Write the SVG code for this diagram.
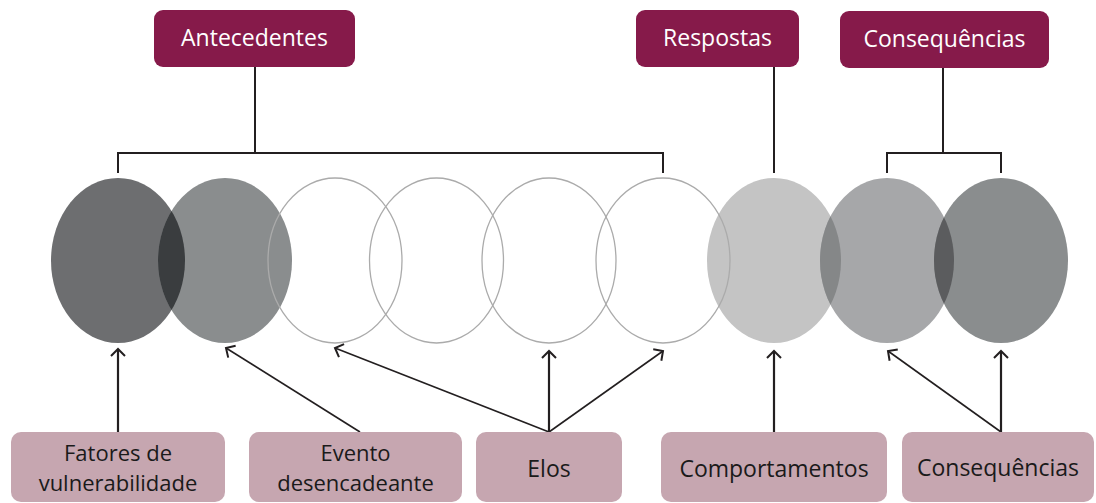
<svg xmlns="http://www.w3.org/2000/svg" width="1096" height="503" viewBox="0 0 1096 503">
<style>
.top{fill:#861a4a}
.bot{fill:#c6a6b0}
.tt{font-family:"Open Sans","Liberation Sans",sans-serif;font-size:23px;fill:#ffffff;text-anchor:middle}
.bt{font-family:"Open Sans","Liberation Sans",sans-serif;font-size:23px;fill:#1a1a1a;text-anchor:middle}
.bt2{font-family:"Open Sans","Liberation Sans",sans-serif;font-size:22px;fill:#1a1a1a;text-anchor:middle}
.ln{stroke:#231f20;stroke-width:2;fill:none}
.ar{stroke:#231f20;stroke-width:1.6;fill:none;marker-end:url(#head)}
.arv{stroke:#231f20;stroke-width:2.2;fill:none;marker-end:url(#head)}
.ol{fill:none;stroke:#ababab;stroke-width:1.3}
</style>
<defs>
<marker id="head" markerUnits="userSpaceOnUse" markerWidth="20" markerHeight="20" viewBox="-10 -10 20 20" refX="0" refY="0" orient="auto">
<path d="M-7,-7 L0,0 L-7,7" fill="none" stroke="#231f20" stroke-width="2"/>
</marker>
<clipPath id="c2"><ellipse cx="225" cy="260.5" rx="67" ry="82.5"/></clipPath>
<clipPath id="c8"><ellipse cx="887" cy="260.5" rx="67" ry="82.5"/></clipPath>
<clipPath id="c9"><ellipse cx="1001" cy="260.5" rx="67" ry="82.5"/></clipPath>
</defs>
<rect width="1096" height="503" fill="#ffffff"/>
<g id="ellipses">
<ellipse cx="118" cy="260.5" rx="67" ry="82.5" fill="#6d6e70"/>
<ellipse cx="225" cy="260.5" rx="67" ry="82.5" fill="#8a8d8e"/>
<ellipse cx="118" cy="260.5" rx="67" ry="82.5" fill="#3a3d3f" clip-path="url(#c2)"/>
<ellipse cx="774" cy="260.5" rx="67" ry="82.5" fill="#c4c4c4"/>
<ellipse cx="887" cy="260.5" rx="67" ry="82.5" fill="#a6a7a9"/>
<ellipse cx="1001" cy="260.5" rx="67" ry="82.5" fill="#8a8d8e"/>
<ellipse cx="774" cy="260.5" rx="67" ry="82.5" fill="#858788" clip-path="url(#c8)"/>
<ellipse cx="887" cy="260.5" rx="67" ry="82.5" fill="#5b5c5e" clip-path="url(#c9)"/>
<ellipse class="ol" cx="335" cy="260.5" rx="67" ry="82.5"/>
<ellipse class="ol" cx="436.5" cy="260.5" rx="67" ry="82.5"/>
<ellipse class="ol" cx="549" cy="260.5" rx="67" ry="82.5"/>
<ellipse class="ol" cx="663" cy="260.5" rx="67" ry="82.5"/>
</g>
<g id="connectors">
<path class="ln" d="M255,67 V153 M118,173 V153 H663 V173"/>
<path class="ln" d="M774,67 V173"/>
<path class="ln" d="M943,68 V153 M887,173 V153 H1001 V173"/>
<path class="arv" d="M118,432 L118,349"/>
<path class="ar" d="M360,432 L226,348"/>
<path class="ar" d="M549,432 L335,348"/>
<path class="arv" d="M549,432 L549,351"/>
<path class="ar" d="M549,432 L663,351"/>
<path class="arv" d="M774,432 L774,351"/>
<path class="ar" d="M1001,432 L888,351"/>
<path class="arv" d="M1001,432 L1001,351"/>
</g>
<g id="antecedentes">
<rect class="top" x="154" y="10" width="201" height="57" rx="9"/>
<text class="tt" x="254.5" y="46">Antecedentes</text>
</g>
<g id="respostas">
<rect class="top" x="636" y="10" width="163" height="57" rx="9"/>
<text class="tt" x="717.5" y="46">Respostas</text>
</g>
<g id="consequencias-top">
<rect class="top" x="840" y="11" width="209" height="57" rx="9"/>
<text class="tt" x="944.5" y="47">Consequências</text>
</g>
<g id="fatores">
<rect class="bot" x="11" y="432" width="214" height="70" rx="10"/>
<text class="bt2" x="118" y="461"><tspan x="118" y="461">Fatores de</tspan><tspan x="118" y="491">vulnerabilidade</tspan></text>
</g>
<g id="evento">
<rect class="bot" x="249" y="432" width="213" height="70" rx="10"/>
<text class="bt2" x="355.5" y="461"><tspan x="355.5" y="461">Evento</tspan><tspan x="355.5" y="491">desencadeante</tspan></text>
</g>
<g id="elos">
<rect class="bot" x="476" y="432" width="146" height="70" rx="10"/>
<text class="bt" x="549" y="477">Elos</text>
</g>
<g id="comportamentos">
<rect class="bot" x="661" y="432" width="226" height="70" rx="10"/>
<text class="bt" x="774" y="477">Comportamentos</text>
</g>
<g id="consequencias-bot">
<rect class="bot" x="902" y="432" width="192" height="70" rx="10"/>
<text class="bt" x="998" y="476">Consequências</text>
</g>
</svg>
